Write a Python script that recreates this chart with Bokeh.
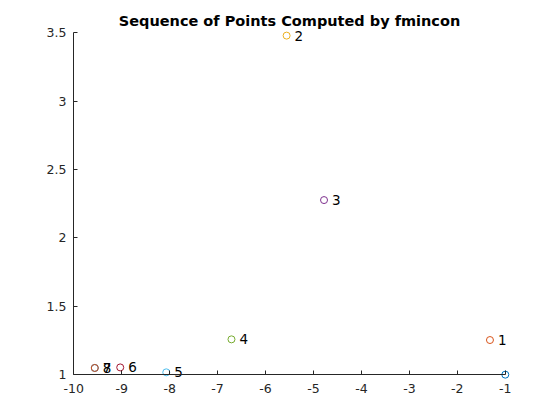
from bokeh.plotting import figure
from bokeh.models import FixedTicker, ColumnDataSource, Range1d, LinearAxis
from bokeh.embed import file_html
from bokeh.resources import INLINE
from bokeh.core.properties import value

# data
x_vals = [-1.0, -1.32, -5.56, -4.78, -6.71, -8.07, -9.03, -9.56, -9.56]
y_vals = [1.0, 1.253, 3.478, 2.276, 1.258, 1.017, 1.053, 1.049, 1.049]
labels = ["0", "1", "2", "3", "4", "5", "6", "7", "8"]
colors = ["#0072BD", "#D95319", "#EDB120", "#7E2F8E", "#77AC30",
          "#4DBEEE", "#A2142F", "#0072BD", "#D95319"]
x_ticks = [-10, -9, -8, -7, -6, -5, -4, -3, -2, -1]
x_tick_labels = ["-10", "-9", "-8", "-7", "-6", "-5", "-4", "-3", "-2", "-1"]
y_ticks = [1, 1.5, 2, 2.5, 3, 3.5]
y_tick_labels = ["1", "1.5", "2", "2.5", "3", "3.5"]

src = ColumnDataSource(dict(x=x_vals, y=y_vals, label=labels, color=colors))

p = figure(frame_width=446, frame_height=353,
           x_range=Range1d(-10.15, -0.85), y_range=Range1d(0.95, 3.53),
           output_backend="svg", toolbar_location=None,
           title="Sequence of Points Computed by fmincon",
           min_border_left=66, min_border_right=32,
           min_border_top=28, min_border_bottom=23)
p.title.align = "center"
p.title.text_font = "DejaVu Sans"
p.title.text_font_size = "14.5px"
p.title.text_font_style = "bold"
p.title.text_color = "black"
p.title.standoff = 0
p.outline_line_color = None
p.grid.visible = False
p.background_fill_color = "white"
p.border_fill_color = "white"

# label-only axes at the frame edges
for ax in (p.xaxis[0], p.yaxis[0]):
    ax.major_label_text_font = "DejaVu Sans"
    ax.major_label_text_font_size = "12.5px"
    ax.major_label_text_color = "#262626"
    ax.axis_line_color = None
    ax.major_tick_line_color = None
    ax.minor_tick_line_color = None
    ax.major_tick_in = 0
    ax.major_tick_out = 0
p.xaxis.major_label_standoff = 2
p.yaxis.major_label_standoff = 0
p.xaxis.ticker = FixedTicker(ticks=x_ticks)
p.yaxis.ticker = FixedTicker(ticks=y_ticks)
p.xaxis.major_label_overrides = {t: l for t, l in zip(x_ticks, x_tick_labels)}
p.yaxis.major_label_overrides = {t: l for t, l in zip(y_ticks, y_tick_labels)}

# line + tick axes placed at the data origin
xline = LinearAxis(ticker=FixedTicker(ticks=x_ticks), bounds=(x_ticks[0], x_ticks[-1]),
                   fixed_location=y_ticks[0], major_label_text_font_size="0px",
                   major_label_text_color=None)
yline = LinearAxis(ticker=FixedTicker(ticks=y_ticks), bounds=(y_ticks[0], y_ticks[-1]),
                   fixed_location=x_ticks[0], major_label_text_font_size="0px",
                   major_label_text_color=None)
for ax in (xline, yline):
    ax.axis_line_color = "#262626"
    ax.major_tick_line_color = "#262626"
    ax.minor_tick_line_color = None
    ax.major_tick_in = 4
    ax.major_tick_out = 0
    ax.major_label_standoff = 0
p.add_layout(xline, "below")
p.add_layout(yline, "left")

p.scatter("x", "y", source=src, size=7, fill_color=None,
          line_color="color", line_width=1)
p.text("x", "y", text="label", source=src, x_offset=8,
       text_align="left", text_baseline="middle",
       text_font=value("DejaVu Sans"), text_font_size="13.5px", text_color="black")

open("out.html", "w").write(file_html(p, INLINE))
